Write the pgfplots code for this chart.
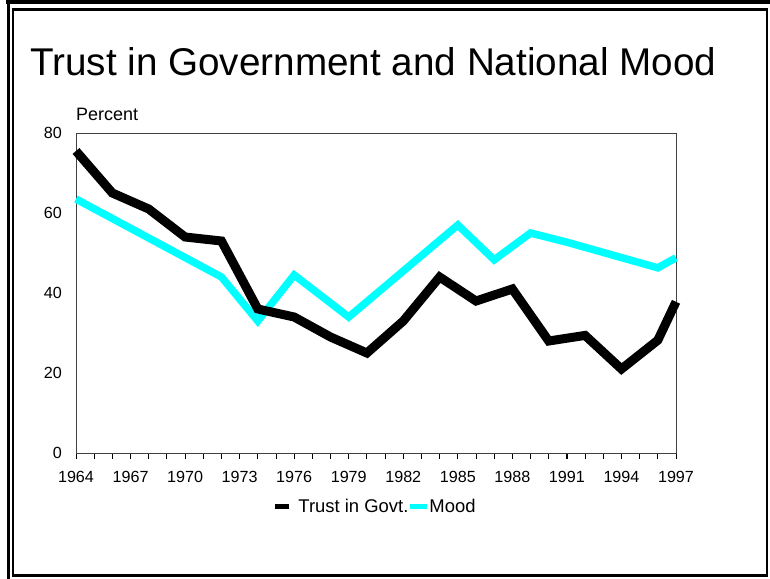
\documentclass[border=0pt]{standalone}
\usepackage{pgfplots}
\pgfplotsset{compat=1.18}
\usepackage{fontspec}
\setmainfont{Liberation Sans}
\definecolor{aqua}{RGB}{0,255,255}
\begin{document}
\begin{tikzpicture}
\useasboundingbox (0bp,0bp) rectangle (770bp,-579bp);
\fill[white] (0bp,0bp) rectangle (770bp,-579bp);
% frame
\draw[line width=4bp] (6bp,-2bp) -- (770bp,-2bp);
\draw[line width=3.5bp] (8.5bp,0bp) -- (8.5bp,-579bp);
\draw[line width=2.6bp] (13bp,-9.3bp) rectangle (767bp,-575.5bp);
\node[anchor=base west, inner sep=0pt, font=\fontsize{38.8}{44}\selectfont] at (30bp,-75bp) {Trust in Government and National Mood};
\node[anchor=base west, inner sep=0pt, font=\fontsize{18}{20}\selectfont] at (76bp,-120bp) {Percent};
\begin{axis}[
  scale only axis, width=600bp, height=320bp,
  at={(76bp,-453bp)}, anchor=south west,
  xmin=1964, xmax=1997, ymin=0, ymax=80,
  xtick={1964,1967,...,1997},
  xticklabels={1964,1967,1970,1973,1976,1979,1982,1985,1988,1991,1994,1997},
  minor xtick={1964,...,1997},
  ytick={0,20,40,60,80},
  yticklabels={0,20,40,60,80},
  xtick pos=bottom, ytick pos=left,
  xtick align=outside, ytick align=inside,
  major tick length=6bp, minor tick length=6bp,
  tick style={black, line width=0.8bp},
  ytick style={draw=none},
  axis line style={black!75, line width=0.8bp},
  xticklabel style={font=\fontsize{16.2}{18}\selectfont, inner sep=0pt, yshift=-12bp},
  yticklabel style={font=\fontsize{16.2}{18}\selectfont, inner sep=0pt, xshift=-14bp},
  clip=false,
  legend columns=-1,
  legend style={at={(0.5,-0.166)}, anchor=center, draw=none, fill=none,
    font=\fontsize{18.5}{20}\selectfont, inner sep=0pt,
    nodes={inner sep=1bp},
    /tikz/every even column/.append style={column sep=1bp}},
]
\addplot[aqua, line width=7.5bp, forget plot] coordinates {
(1964,63.5) (1972,44) (1974,33) (1976,44.5) (1979,34) (1985,57)
(1987,48.3) (1989,55) (1991,52.7) (1996,46.3) (1997,48.8)};
\addplot[black, line width=9bp,
  legend image code/.code={\path[fill=black, draw=none, line width=0pt] (0bp,-2.5bp) rectangle (14bp,2.5bp); \path[draw=none] (22bp,0bp);}] coordinates {
(1964,75.5) (1966,65) (1968,61) (1970,54) (1972,53) (1974,36) (1976,34)
(1978,29) (1980,25) (1982,33) (1984,44) (1986,38) (1988,41) (1990,28)
(1992,29.4) (1994,21) (1996,28.2) (1997,37.8)};
\addlegendentry{Trust in Govt.}
\addlegendimage{legend image code/.code={\path[fill=aqua, draw=none, line width=0pt] (0bp,-2.5bp) rectangle (17bp,2.5bp); \path[draw=none] (18bp,0bp);}}
\addlegendentry{Mood}
\end{axis}
\end{tikzpicture}
\end{document}
